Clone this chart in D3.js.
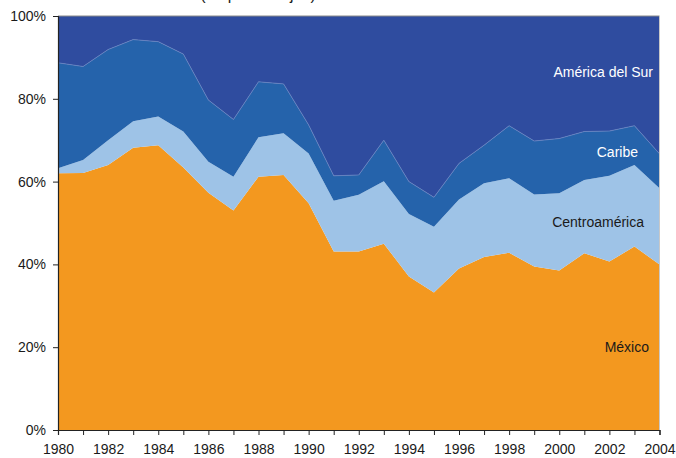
<!DOCTYPE html>
<html>
<head>
<meta charset="utf-8">
<script src="https://cdn.jsdelivr.net/npm/d3@7"></script>
<style>
  body { margin: 0; background: #fff; }
  svg { display: block; font-family: "Liberation Sans", Arial, sans-serif; }
</style>
</head>
<body>
<div id="chart"></div>
<script>
// años y participación (%) de cada región
var years = d3.range(1980, 2005);
var mexico = [62.0, 62.1, 64.0, 68.2, 68.8, 63.4, 57.3, 53.0, 61.2, 61.6, 54.8, 43.1, 43.1,
              45.0, 37.1, 33.2, 39.0, 41.8, 42.8, 39.5, 38.5, 42.7, 40.7, 44.3, 40.0];
var centroamerica = [1.2, 3.1, 6.0, 6.4, 6.9, 8.7, 7.5, 8.2, 9.5, 10.1, 12.0, 12.3, 13.7,
              15.1, 15.1, 15.9, 16.7, 17.8, 18.0, 17.4, 18.7, 17.7, 20.7, 19.7, 18.4];
var caribe = [25.5, 22.6, 21.9, 19.7, 18.1, 18.7, 14.9, 13.8, 13.4, 11.9, 6.9, 6.0, 4.8,
              9.9, 7.8, 7.1, 8.7, 9.2, 12.7, 12.9, 13.2, 11.7, 10.8, 9.5, 8.3];
var americaSur = [11.3, 12.2, 8.1, 5.7, 6.2, 9.2, 20.3, 25.0, 15.9, 16.4, 26.3, 38.6, 38.4,
              30.0, 40.0, 43.8, 35.6, 31.2, 26.5, 30.2, 29.6, 27.9, 27.8, 26.5, 33.3];
var yTicks = [0, 20, 40, 60, 80, 100];

var keys = ["México", "Centroamérica", "Caribe", "América del Sur"];
var colors = ["#f3981f", "#9ec3e7", "#2563ab", "#2f4c9f"];

var rows = years.map(function(y, i) {
  return { year: y, "México": mexico[i], "Centroamérica": centroamerica[i],
           "Caribe": caribe[i], "América del Sur": americaSur[i] };
});

var width = 676, height = 458;
var margin = {top: 16, right: 16.5, bottom: 28, left: 58};

var svg = d3.select("#chart").append("svg")
    .attr("width", width)
    .attr("height", height);

var x = d3.scaleLinear()
    .domain([1980, 2004])
    .range([margin.left, width - margin.right]);

var y = d3.scaleLinear()
    .domain([0, 100])
    .range([height - margin.bottom, margin.top]);

var stack = d3.stack().keys(keys);
var series = stack(rows);

var area = d3.area()
    .x(function(d) { return x(d.data.year); })
    .y0(function(d) { return y(d[0]); })
    .y1(function(d) { return y(d[1]); });

svg.append("g")
  .selectAll("path")
  .data(series)
  .enter().append("path")
    .attr("fill", function(d, i) { return colors[i]; })
    .attr("d", area);

// línea fina entre Caribe y América del Sur
var topLine = d3.line()
    .x(function(d) { return x(d.data.year); })
    .y(function(d) { return y(d[1]); });

svg.append("path")
    .datum(series[2])
    .attr("fill", "none")
    .attr("stroke", "#6683c2")
    .attr("stroke-width", 0.8)
    .attr("d", topLine);

// marco superior y derecho
svg.append("line")
    .attr("x1", x(1980)).attr("x2", x(2004))
    .attr("y1", y(100)).attr("y2", y(100))
    .attr("stroke", "#8a8a8a").attr("stroke-width", 1);
svg.append("line")
    .attr("x1", x(2004)).attr("x2", x(2004))
    .attr("y1", y(100)).attr("y2", y(0))
    .attr("stroke", "#c8c8c8").attr("stroke-width", 1);

// ejes
var yAxis = d3.axisLeft(y)
    .tickValues(yTicks)
    .tickSize(5)
    .tickPadding(7)
    .tickFormat(function(d) { return d + "%"; });

var xAxis = d3.axisBottom(x)
    .tickValues(years)
    .tickSize(5)
    .tickPadding(9)
    .tickFormat(function(d) { return d % 2 === 0 ? d : ""; });

var gy = svg.append("g")
    .attr("transform", "translate(" + margin.left + ",0)")
    .call(yAxis);

var gx = svg.append("g")
    .attr("transform", "translate(0," + (height - margin.bottom) + ")")
    .call(xAxis);

[gx, gy].forEach(function(g) {
  g.selectAll(".domain").attr("stroke", "#222").attr("stroke-width", 1.2);
  g.selectAll(".tick line").attr("stroke", "#222");
  g.selectAll("text")
    .attr("fill", "#1a1a1a")
    .style("font-size", "14px")
    .style("font-family", "'Liberation Sans', Arial, sans-serif");
});

// rótulos dentro del gráfico
var labels = [
  {text: "América del Sur", x: 653, y: 77, color: "#ffffff"},
  {text: "Caribe", x: 638, y: 157, color: "#ffffff"},
  {text: "Centroamérica", x: 644, y: 227, color: "#1a1a1a"},
  {text: "México", x: 649, y: 352, color: "#1a1a1a"}
];

svg.append("g")
  .selectAll("text")
  .data(labels)
  .enter().append("text")
    .attr("x", function(d) { return d.x; })
    .attr("y", function(d) { return d.y; })
    .attr("text-anchor", "end")
    .attr("fill", function(d) { return d.color; })
    .style("font-size", "14px")
    .text(function(d) { return d.text; });

// título, recortado arriba como en el original
svg.append("text")
    .attr("x", 258)
    .attr("y", 0)
    .attr("text-anchor", "middle")
    .attr("fill", "#1a1a1a")
    .style("font-size", "16px")
    .text("(en porcentajes)");
</script>
</body>
</html>
